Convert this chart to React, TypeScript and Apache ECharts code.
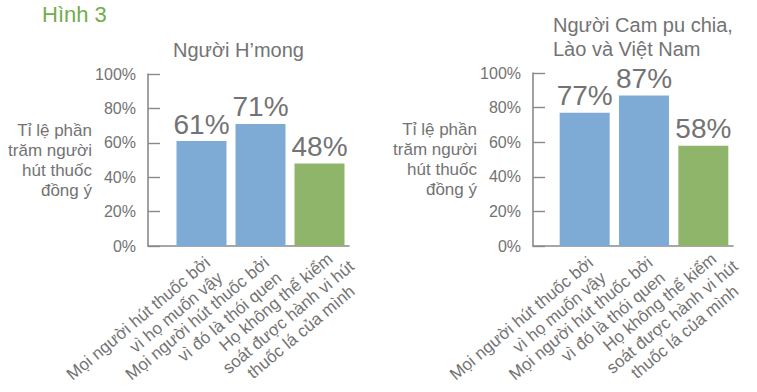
import React, { useEffect, useRef } from 'react';
import * as echarts from 'echarts';

const figureLabel = 'Hình 3';
const leftTitle = 'Người H’mong';
const rightTitle = 'Người Cam pu chia,\nLào và Việt Nam';
const yAxisName = 'Tỉ lệ phần\ntrăm người\nhút thuốc\nđồng ý';
const categories = [
  'Mọi người hút thuốc bởi\nvì họ muốn vậy',
  'Mọi người hút thuốc bởi\nvì đó là thói quen',
  'Họ không thể kiểm\nsoát được hành vi hút\nthuốc lá của mình',
];
const hmongValues = [61, 71, 48];
const clvValues = [77, 87, 58];
const yMin = 0;
const yMax = 100;
const yInterval = 20;

const barColors = ['#7eabd5', '#7eabd5', '#8fb56a'];
// per-category label alignment (style only)
const categoryLabelStyles: any[] = [
  { align: 'right', verticalAlign: 'top' },
  { align: 'right', verticalAlign: 'top' },
  { align: 'center', verticalAlign: 'top', padding: [0, 130, 0, 0] },
];
const FONT = "'Liberation Sans', Arial, Helvetica, sans-serif";
const GRAY = '#737373';
const AXIS = '#8a8a8a';

type Panel = {
  axisX: number;
  plotRight: number;
  barLeft: number;
  top: number;
  bottom: number;
  values: number[];
};

function buildPanel(p: Panel, idx: number) {
  const g0 = idx * 2;
  const g1 = idx * 2 + 1;
  const h = p.bottom - p.top;
  const grid = [
    { left: p.axisX, top: p.top, width: p.plotRight - p.axisX, height: h, outerBoundsMode: 'none', containLabel: false },
    { left: p.barLeft, top: p.top, width: p.plotRight - p.barLeft, height: h, outerBoundsMode: 'none', containLabel: false },
  ];
  const xAxis = [
    {
      type: 'value', gridIndex: g0, min: 0, max: 1,
      axisLine: { show: true, onZero: false, lineStyle: { color: AXIS, width: 1.6 } },
      axisTick: { show: false }, axisLabel: { show: false }, splitLine: { show: false },
    },
    {
      type: 'category', gridIndex: g1, boundaryGap: true,
      data: categories.map((c, i) => ({ value: c, textStyle: categoryLabelStyles[i] })),
      axisLine: { show: false }, axisTick: { show: false }, splitLine: { show: false },
      axisLabel: {
        interval: 0,
        rotate: 40,
        align: 'right',
        verticalAlign: 'top',
        margin: 7,
        color: GRAY,
        fontFamily: FONT,
        fontSize: 17,
        lineHeight: 19.5,
      },
    },
  ];
  const yAxis = [
    {
      type: 'value', gridIndex: g0, min: yMin, max: yMax, interval: yInterval,
      axisLine: { show: true, lineStyle: { color: AXIS, width: 1.6 } },
      axisTick: { show: true, inside: true, length: 12, lineStyle: { color: AXIS, width: 1.4 } },
      splitLine: { show: false },
      axisLabel: { formatter: '{value}%', color: GRAY, fontFamily: FONT, fontSize: 16, margin: 12 },
      name: yAxisName,
      nameLocation: 'middle',
      nameGap: 56,
      nameRotate: 0,
      nameMoveOverlap: false,
      nameTextStyle: { align: 'right', verticalAlign: 'middle', color: GRAY, fontFamily: FONT, fontSize: 17, lineHeight: 20, padding: [0, 0, 3, 0] },
    },
    { type: 'value', gridIndex: g1, min: yMin, max: yMax, interval: yInterval, show: false },
  ];
  const series = [
    {
      type: 'bar',
      xAxisIndex: g1,
      yAxisIndex: g1,
      barWidth: 50,
      data: p.values.map((v, i) => ({ value: v, itemStyle: { color: barColors[i] } })),
      label: {
        show: true, position: 'top', distance: 3, formatter: '{c}%',
        color: GRAY, fontFamily: FONT, fontSize: 28,
      },
    },
  ];
  return { grid, xAxis, yAxis, series };
}

export default function App() {
  const ref = useRef<HTMLDivElement>(null);
  useEffect(() => {
    if (!ref.current) return;
    const chart = echarts.init(ref.current, undefined, { renderer: 'svg' });
    const left = buildPanel({ axisX: 148, plotRight: 349, barLeft: 172, top: 74, bottom: 246, values: hmongValues }, 0);
    const right = buildPanel({ axisX: 533, plotRight: 733, barLeft: 555, top: 73, bottom: 246, values: clvValues }, 1);
    chart.setOption({
      animation: false,
      backgroundColor: '#ffffff',
      title: [
        { text: figureLabel, left: 42, top: 3, padding: 0, textStyle: { color: '#72ac4c', fontFamily: FONT, fontSize: 22, fontWeight: 'normal' } },
        { text: leftTitle, left: 173, top: 40, padding: 0, textStyle: { color: GRAY, fontFamily: FONT, fontSize: 20, fontWeight: 'normal' } },
        { text: rightTitle, left: 553, top: 13, padding: 0, textStyle: { color: GRAY, fontFamily: FONT, fontSize: 20, lineHeight: 24, fontWeight: 'normal' } },
      ],
      grid: [...left.grid, ...right.grid],
      xAxis: [...left.xAxis, ...right.xAxis],
      yAxis: [...left.yAxis, ...right.yAxis],
      series: [...left.series, ...right.series],
    });
    return () => chart.dispose();
  }, []);
  return <div ref={ref} style={{ position: 'fixed', left: 0, top: 0, width: 757, height: 392, background: '#fff' }} />;
}
